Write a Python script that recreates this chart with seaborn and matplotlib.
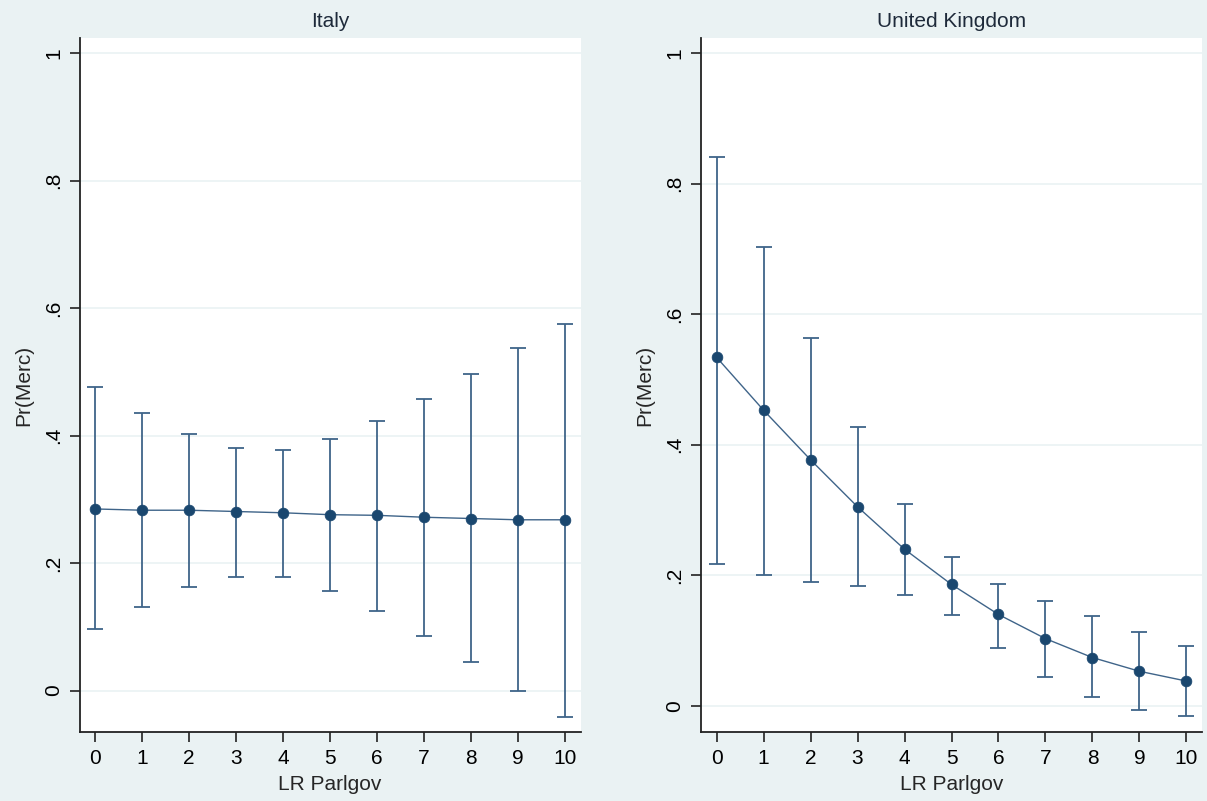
import numpy as np
import pandas as pd
import seaborn as sns
import matplotlib.pyplot as plt

# predicted Pr(Merc) by LR Parlgov position, with 95% CIs
lr = list(range(11))

italy_pr = [0.285, 0.283, 0.283, 0.281, 0.279, 0.276, 0.275, 0.272, 0.270, 0.268, 0.268]
italy_lo = [0.096, 0.131, 0.162, 0.178, 0.178, 0.156, 0.125, 0.085, 0.045, 0.000, -0.042]
italy_hi = [0.476, 0.436, 0.403, 0.380, 0.378, 0.394, 0.423, 0.458, 0.496, 0.537, 0.576]

uk_pr = [0.534, 0.453, 0.377, 0.305, 0.240, 0.186, 0.140, 0.103, 0.074, 0.053, 0.038]
uk_lo = [0.217, 0.200, 0.189, 0.183, 0.170, 0.139, 0.089, 0.044, 0.013, -0.006, -0.015]
uk_hi = [0.841, 0.703, 0.563, 0.427, 0.309, 0.228, 0.187, 0.161, 0.137, 0.113, 0.091]

yticks = [0, 0.2, 0.4, 0.6, 0.8, 1]
ytick_labels = ['0', '.2', '.4', '.6', '.8', '1']

bg = '#EAF2F3'
navy = '#1a476f'
ci_col = '#3f6489'

sns.set_style('white')
plt.rcParams['font.family'] = ['Liberation Sans', 'DejaVu Sans']

fig = plt.figure(figsize=(12.07, 8.01), dpi=100, facecolor=bg)
W, H = 1207, 801

panels = [
    ('Italy', italy_pr, italy_lo, italy_hi, (79.6, 580.5, 38, 732), (-0.065, 1.024)),
    ('United Kingdom', uk_pr, uk_lo, uk_hi, (701, 1202, 38, 732), (-0.040, 1.023)),
]

for title, pr, lo, hi, (x0, x1, y0, y1), ylim in panels:
    ax = fig.add_axes([x0 / W, (H - y1) / H, (x1 - x0) / W, (y1 - y0) / H])
    ax.set_facecolor('white')
    df = pd.DataFrame({'LR Parlgov': lr, 'Pr(Merc)': pr,
                       'lo': lo, 'hi': hi})

    for y in yticks:
        ax.axhline(y, color=bg, lw=1.2, zorder=0)

    ax.errorbar(df['LR Parlgov'], df['Pr(Merc)'],
                yerr=[df['Pr(Merc)'] - df['lo'], df['hi'] - df['Pr(Merc)']],
                fmt='none', ecolor=ci_col, elinewidth=1.3, capsize=6,
                capthick=1.3, zorder=2)
    sns.lineplot(data=df, x='LR Parlgov', y='Pr(Merc)', ax=ax,
                 color=ci_col, lw=1.0, zorder=3)
    sns.scatterplot(data=df, x='LR Parlgov', y='Pr(Merc)', ax=ax,
                    color=navy, s=60, edgecolor=navy, linewidth=0.5,
                    zorder=4)

    ax.set_xlim(-0.33, 10.33)
    ax.set_ylim(*ylim)
    ax.set_xticks(lr)
    ax.set_xticklabels([str(v) for v in lr], fontsize=15)
    ax.set_yticks(yticks)
    ax.set_yticklabels(ytick_labels, fontsize=15, rotation=90, va='center')
    ax.tick_params(axis='both', direction='out', length=7, width=1.2,
                   colors='#222222', labelcolor='black', pad=5)
    ax.tick_params(axis='both', bottom=True, left=True)
    ax.set_xlabel('LR Parlgov', fontsize=15, va='center')
    ax.xaxis.set_label_coords(0.5, (y1 - 784) / (y1 - y0))
    ax.set_ylabel('Pr(Merc)', fontsize=15, labelpad=8)
    ax.set_title(title, fontsize=15, color='#1e2a3a', pad=8)
    for s in ['top', 'right']:
        ax.spines[s].set_visible(False)
    for s in ['left', 'bottom']:
        ax.spines[s].set_color('#222222')
        ax.spines[s].set_linewidth(1.3)

fig.savefig('out.png', dpi=100, facecolor=bg)
